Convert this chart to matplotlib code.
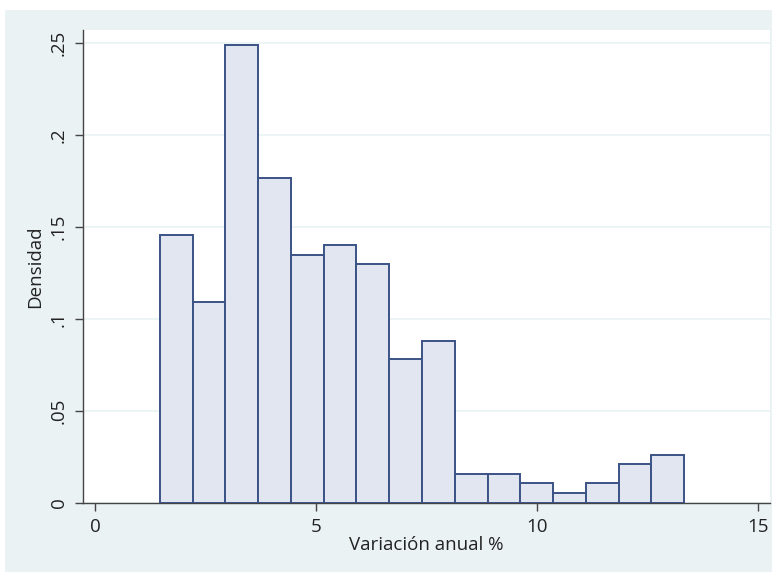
import numpy as np
import matplotlib.pyplot as plt
from matplotlib.patches import Rectangle

bin_start = 1.47
bin_width = 0.741
densidad = [0.1457, 0.1092, 0.2489, 0.1766, 0.1348, 0.1402, 0.1299, 0.0783,
            0.0880, 0.0158, 0.0158, 0.0109, 0.0054, 0.0109, 0.0212, 0.0261]
x_ticks = [0, 5, 10, 15]
y_ticks = [0, 0.05, 0.10, 0.15, 0.20, 0.25]
y_labels = ['0', '.05', '.1', '.15', '.2', '.25']

plt.rcParams['font.family'] = ['Open Sans', 'DejaVu Sans']

fig = plt.figure(figsize=(7.77, 5.73), dpi=100, facecolor='white')
# fondo exterior gris azulado tipo Stata
fig.patches.append(Rectangle((5 / 777, 1 - 572 / 573), 767 / 777, 562 / 573,
                             transform=fig.transFigure, facecolor='#EAF2F3',
                             edgecolor='none', zorder=-10))

ax = fig.add_axes([83 / 777, 1 - 503 / 573, 687 / 777, 473 / 573])
ax.set_zorder(5)
ax.set_facecolor('white')

left_edges = bin_start + bin_width * np.arange(len(densidad))
ax.bar(left_edges, densidad, width=bin_width, align='edge',
       color='#E1E6F0', edgecolor='#3B5286', linewidth=1.4, zorder=3)

ax.set_xlim(-0.27, 15.27)
ax.set_ylim(0, 0.257)
ax.set_xticks(x_ticks)
ax.set_xticklabels([str(t) for t in x_ticks])
ax.set_yticks(y_ticks)
ax.set_yticklabels(y_labels, rotation=90, va='center')

ax.grid(axis='y', color='#EAF2F3', linewidth=1.2, zorder=0)
ax.set_axisbelow(True)
for s in ['top', 'right']:
    ax.spines[s].set_visible(False)
for s in ['left', 'bottom']:
    ax.spines[s].set_color('#444444')
    ax.spines[s].set_linewidth(1.0)
ax.tick_params(axis='both', direction='out', length=6, width=1, color='#444444',
               labelsize=13.5, labelcolor='#222222', pad=5)

ax.set_xlabel('Variación anual %', fontsize=13.5, color='#222222', labelpad=0)
ax.set_ylabel('Densidad', fontsize=13.5, color='#222222', labelpad=4)

fig.savefig('out.png', dpi=100, facecolor=fig.get_facecolor())
